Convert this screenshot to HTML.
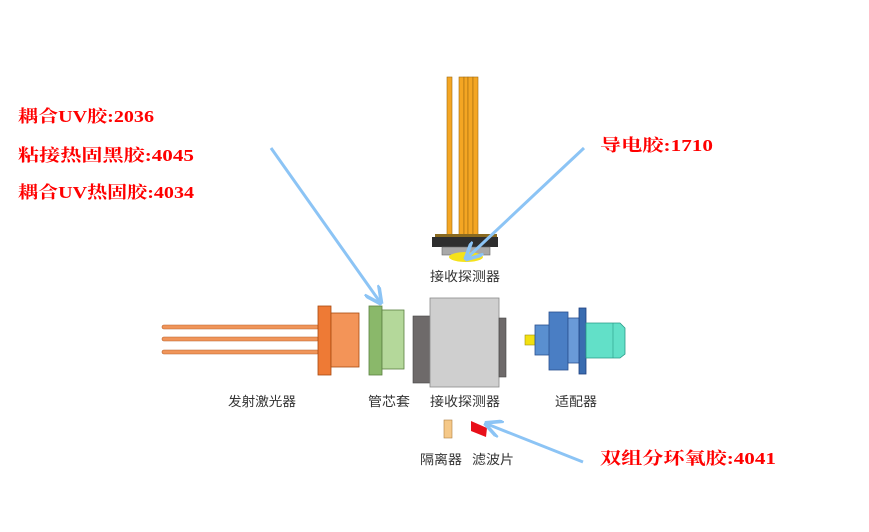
<!DOCTYPE html>
<html><head><meta charset="utf-8"><style>
html,body{margin:0;padding:0;background:#fff;}
svg{display:block}
.r{font-family:"Liberation Serif","Noto Serif CJK SC",serif;font-weight:bold;font-size:17px;fill:#ff0000}
.g{font-family:"Liberation Sans","Noto Sans CJK SC",sans-serif;font-size:13px;fill:#333}
</style></head><body>
<svg width="869" height="532" viewBox="0 0 869 532" xmlns="http://www.w3.org/2000/svg">
<defs>
<marker id="ah" markerWidth="6" markerHeight="6" refX="5" refY="3" orient="auto" markerUnits="strokeWidth">
<path d="M0,0 L6,3 L0,6" fill="none" stroke="#8cc4f5" stroke-width="1.2"/>
</marker>
</defs>
<!-- red labels -->
<text class="r" x="18" y="122" textLength="136" lengthAdjust="spacingAndGlyphs">耦合UV胶:2036</text>
<text class="r" x="18" y="161" textLength="176" lengthAdjust="spacingAndGlyphs">粘接热固黑胶:4045</text>
<text class="r" x="18" y="198" textLength="176" lengthAdjust="spacingAndGlyphs">耦合UV热固胶:4034</text>
<text class="r" x="600" y="151" textLength="113" lengthAdjust="spacingAndGlyphs">导电胶:1710</text>
<text class="r" x="600" y="464" textLength="176" lengthAdjust="spacingAndGlyphs">双组分环氧胶:4041</text>

<!-- top detector -->
<rect x="447" y="77" width="5" height="158" fill="#f4a623" stroke="#a06a10" stroke-width="0.6"/>
<rect x="459" y="77" width="5" height="158" fill="#f4a623" stroke="#a06a10" stroke-width="0.6"/>
<rect x="464" y="77" width="4" height="158" fill="#f4a623" stroke="#a06a10" stroke-width="0.6"/>
<rect x="468" y="77" width="5" height="158" fill="#f4a623" stroke="#a06a10" stroke-width="0.6"/>
<rect x="473" y="77" width="5" height="158" fill="#f4a623" stroke="#a06a10" stroke-width="0.6"/>
<rect x="435" y="234" width="62" height="3" fill="#8a6a20"/>
<rect x="432" y="237" width="66" height="10" fill="#2e2e2e"/>
<rect x="442" y="247" width="48" height="8" fill="#a8a8a8" stroke="#666" stroke-width="0.6"/>
<ellipse cx="466" cy="257" rx="17" ry="5" fill="#f5e21a"/>
<text class="g" x="430" y="281" textLength="70" lengthAdjust="spacingAndGlyphs">接收探测器</text>

<!-- laser -->
<rect x="162" y="325" width="157" height="4" rx="2" fill="#f0955a" stroke="#b8602a" stroke-width="0.6"/>
<rect x="162" y="337" width="157" height="4" rx="2" fill="#f0955a" stroke="#b8602a" stroke-width="0.6"/>
<rect x="162" y="350" width="157" height="4" rx="2" fill="#f0955a" stroke="#b8602a" stroke-width="0.6"/>
<rect x="318" y="306" width="13" height="69" fill="#ee7a35" stroke="#a84a10" stroke-width="0.8"/>
<rect x="331" y="313" width="28" height="54" fill="#f39458" stroke="#a84a10" stroke-width="0.8"/>
<!-- sleeve -->
<rect x="369" y="306" width="13" height="69" fill="#8ab86a" stroke="#5a8040" stroke-width="0.8"/>
<rect x="382" y="310" width="22" height="59" fill="#b4d89a" stroke="#5a8040" stroke-width="0.8"/>
<!-- receiver -->
<rect x="413" y="316" width="18" height="67" fill="#6e6a6a" stroke="#444" stroke-width="0.6"/>
<rect x="430" y="298" width="69" height="89" fill="#cfcfcf" stroke="#8a8a8a" stroke-width="0.8"/>
<rect x="499" y="318" width="7" height="59" fill="#6e6a6a" stroke="#444" stroke-width="0.6"/>
<!-- adapter -->
<rect x="525" y="335" width="10" height="10" fill="#f2e010" stroke="#a09010" stroke-width="0.6"/>
<rect x="535" y="325" width="16" height="30" fill="#5a8fd0" stroke="#2a5090" stroke-width="0.8"/>
<rect x="549" y="312" width="19" height="58" fill="#4a7ec4" stroke="#2a5090" stroke-width="0.8"/>
<rect x="568" y="318" width="12" height="45" fill="#6a9ad8" stroke="#2a5090" stroke-width="0.8"/>
<rect x="579" y="308" width="7" height="66" fill="#3a6cb0" stroke="#1f4080" stroke-width="0.8"/>
<path d="M586,323 L620,323 L625,328 L625,354 L620,358 L586,358 Z" fill="#62e0c8" stroke="#2a9a88" stroke-width="0.8"/>
<line x1="613" y1="323" x2="613" y2="358" stroke="#2a9a88" stroke-width="0.6"/>

<text class="g" x="228" y="406" textLength="68" lengthAdjust="spacingAndGlyphs">发射激光器</text>
<text class="g" x="368" y="406" textLength="42" lengthAdjust="spacingAndGlyphs">管芯套</text>
<text class="g" x="430" y="406" textLength="70" lengthAdjust="spacingAndGlyphs">接收探测器</text>
<text class="g" x="555" y="406" textLength="42" lengthAdjust="spacingAndGlyphs">适配器</text>

<rect x="444" y="420" width="8" height="18" fill="#f5c888" stroke="#b08040" stroke-width="0.6"/>
<path d="M471,421 L487,428 L486,437 L471,431 Z" fill="#e8101a"/>
<text class="g" x="420" y="464" textLength="42" lengthAdjust="spacingAndGlyphs">隔离器</text>
<text class="g" x="472" y="464" textLength="42" lengthAdjust="spacingAndGlyphs">滤波片</text>

<!-- arrows -->
<line x1="271" y1="148" x2="380" y2="302" stroke="#8cc4f5" stroke-width="3" marker-end="url(#ah)"/>
<line x1="584" y1="148" x2="467" y2="258" stroke="#8cc4f5" stroke-width="3" marker-end="url(#ah)"/>
<line x1="583" y1="462" x2="487" y2="424" stroke="#8cc4f5" stroke-width="3" marker-end="url(#ah)"/>
</svg>
</body></html>
